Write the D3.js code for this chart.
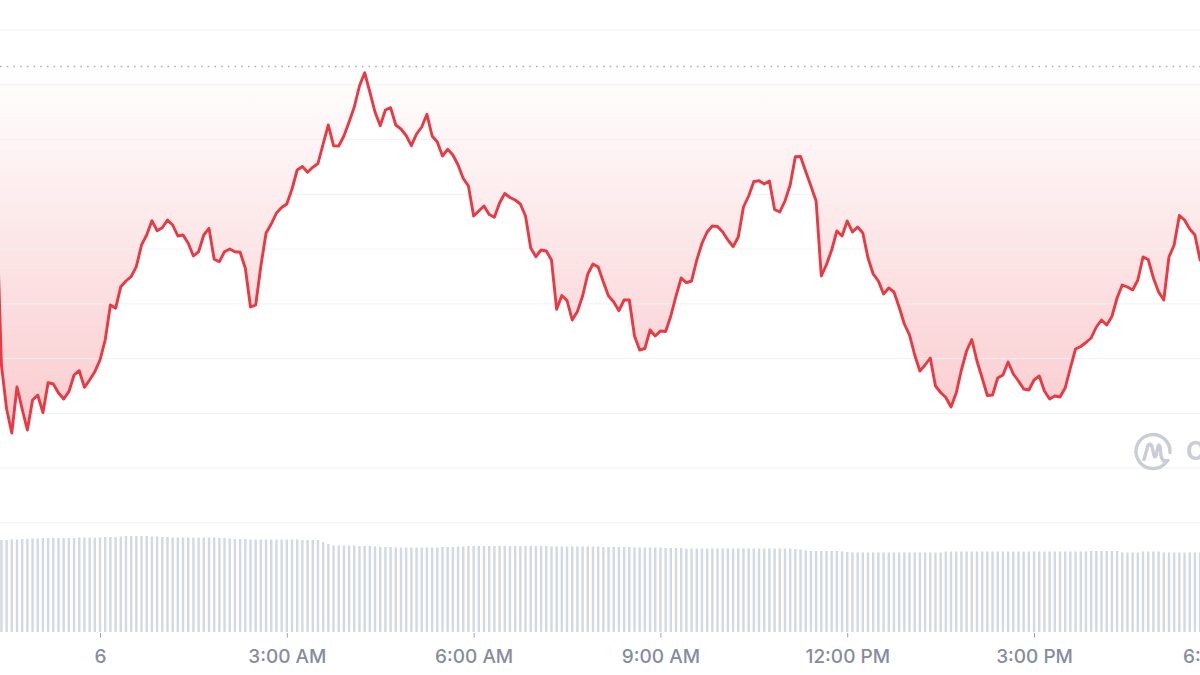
<!DOCTYPE html>
<html><head><meta charset="utf-8">
<script src="https://cdn.jsdelivr.net/npm/d3@7"></script>
<style>html,body{margin:0;padding:0;background:#fff;overflow:hidden;} svg{display:block;}</style>
</head><body>
<svg id="chart" width="1200" height="675"></svg>
<script>
// ---- data (5-minute samples) ----
const startTime = "2024-01-05T22:20:00";
const stepMinutes = 5;
const viewStart = "2024-01-05T22:23:38";
const viewEnd = "2024-01-06T17:39:54";
const openPrice = 1.4335;
const prices = [
1.3000,1.1350,1.0910,1.0670,1.1130,1.0910,1.0700,1.1000,1.1050,1.0873,
1.1173,1.1160,1.1070,1.1010,1.1083,1.1250,1.1293,1.1127,1.1200,1.1283,
1.1400,1.1600,1.1950,1.1917,1.2133,1.2190,1.2233,1.2333,1.2550,1.2650,
1.2793,1.2693,1.2723,1.2800,1.2750,1.2640,1.2650,1.2567,1.2440,1.2483,
1.2650,1.2717,1.2407,1.2383,1.2483,1.2510,1.2483,1.2477,1.2320,1.1930,
1.1950,1.2340,1.2670,1.2760,1.2870,1.2925,1.2960,1.3110,1.3300,1.3335,
1.3277,1.3327,1.3365,1.3560,1.3750,1.3543,1.3540,1.3640,1.3780,1.3930,
1.4140,1.4273,1.4080,1.3880,1.3743,1.3900,1.3923,1.3750,1.3710,1.3645,
1.3543,1.3660,1.3730,1.3857,1.3640,1.3580,1.3440,1.3507,1.3450,1.3350,
1.3215,1.3140,1.2840,1.2890,1.2940,1.2855,1.2827,1.2970,1.3065,1.3025,
1.3000,1.2960,1.2840,1.2520,1.2433,1.2500,1.2490,1.2400,1.1907,1.2045,
1.1995,1.1800,1.1885,1.2040,1.2260,1.2360,1.2330,1.2180,1.2040,1.1980,
1.1893,1.2000,1.2000,1.1640,1.1500,1.1515,1.1700,1.1640,1.1690,1.1685,
1.1840,1.2040,1.2220,1.2173,1.2190,1.2400,1.2565,1.2680,1.2740,1.2735,
1.2680,1.2600,1.2533,1.2630,1.2930,1.3040,1.3185,1.3193,1.3160,1.3190,
1.2905,1.2880,1.2990,1.3150,1.3433,1.3435,1.3285,1.3140,1.2990,1.2240,
1.2355,1.2500,1.2690,1.2640,1.2790,1.2680,1.2730,1.2670,1.2420,1.2260,
1.2190,1.2060,1.2120,1.2080,1.1930,1.1760,1.1650,1.1450,1.1290,1.1350,
1.1420,1.1140,1.1075,1.1025,1.0930,1.1070,1.1300,1.1490,1.1605,1.1390,
1.1220,1.1045,1.1050,1.1220,1.1250,1.1380,1.1260,1.1190,1.1110,1.1100,
1.1200,1.1240,1.1090,1.1010,1.1040,1.1030,1.1120,1.1320,1.1510,1.1535,
1.1575,1.1620,1.1730,1.1800,1.1750,1.1835,1.2020,1.2150,1.2130,1.2100,
1.2200,1.2430,1.2405,1.2220,1.2080,1.2000,1.2430,1.2550,1.2845,1.2800,
1.2710,1.2650,1.2400
];
const volumes = [
184,184,184,185,185,186,186,
187,187,188,188,188,188,188,188,188,189,189,189,189,189,190,190,190,
191,192,192,192,192,192,191,191,
190,190,189,189,189,189,189,189,189,189,189,188,188,187,
186,186,186,185,185,185,185,185,185,185,185,185,185,184,184,184,184,
180,176,
173,173,173,173,173,172,172,172,171,170,170,170,169,
169,169,169,169,169,169,169,169,170,170,170,171,171,
172,172,172,172,172,172,172,172,172,172,172,172,172,172,172,172,
171,171,171,171,171,171,171,171,171,171,
170,170,170,170,170,170,169,169,169,169,169,169,
168,168,168,168,167,167,167,167,167,167,167,167,167,167,167,167,167,167,167,167,167,167,167,167,167,166,165,
163,162,162,162,162,162,162,161,160,
159,159,159,159,159,159,159,159,159,159,159,159,159,159,159,159,159,159,
161,161,161,161,161,161,161,161,161,161,161,161,161,161,161,161,161,161,161,161,161,161,161,161,161,161,161,161,
162,162,162,162,162,162,
159,159,159,159,
161,161,161,161,
159,159,159,159,159,159,159,159
];
const gridPrices = [1.4700,1.4152,1.3604,1.3057,1.2509,1.1961,1.1414,1.0866,1.0319,0.9771];
const tickTimes = ["2024-01-06T00:00:00","2024-01-06T03:00:00","2024-01-06T06:00:00","2024-01-06T09:00:00","2024-01-06T12:00:00","2024-01-06T15:00:00","2024-01-06T18:00:00"];
const tickLabels = ["6","3:00 AM","6:00 AM","9:00 AM","12:00 PM","3:00 PM","6:00 PM"];

// ---- build ----
const parse = d3.timeParse("%Y-%m-%dT%H:%M:%S");
const t0 = parse(startTime);
const data = prices.map((p, i) => ({
  t: d3.timeMinute.offset(t0, i * stepMinutes),
  p: p,
  v: volumes[i]
}));

const W = 1200, H = 675;
const svg = d3.select("#chart");
const x = d3.scaleTime().domain([parse(viewStart), parse(viewEnd)]).range([0, W]);
const y = d3.scaleLinear().domain([0.9771, 1.4700]).range([522.9, 30]);
const yv = d3.scaleLinear().domain([0, 200]).range([632, 532]);

const defs = svg.append("defs");
const grad = defs.append("linearGradient").attr("id", "fillGrad")
  .attr("gradientUnits", "userSpaceOnUse")
  .attr("x1", 0).attr("x2", 0)
  .attr("y1", y(openPrice)).attr("y2", y(d3.min(prices)));
grad.append("stop").attr("offset", 0).attr("stop-color", "#ea3943").attr("stop-opacity", 0.0);
grad.append("stop").attr("offset", 1).attr("stop-color", "#ea3943").attr("stop-opacity", 0.26);

// volume bars
svg.append("g").selectAll("rect").data(data).join("rect")
  .attr("x", d => x(d.t) - 1.2)
  .attr("width", 2.4)
  .attr("y", d => yv(d.v))
  .attr("height", d => yv(0) - yv(d.v))
  .attr("fill", "#d3d8e5");

// area fill between open price and line
const area = d3.area().x(d => x(d.t)).y0(y(openPrice)).y1(d => y(d.p));
svg.append("path").datum(data).attr("d", area).attr("fill", "url(#fillGrad)");

// grid lines (on top of fill)
svg.append("g").selectAll("line").data(gridPrices).join("line")
  .attr("x1", 0).attr("x2", W)
  .attr("y1", d => y(d)).attr("y2", d => y(d))
  .attr("stroke", "#eff1f4").attr("stroke-width", 1);

// open price dotted line
svg.append("line")
  .attr("x1", 0).attr("x2", W)
  .attr("y1", y(openPrice)).attr("y2", y(openPrice))
  .attr("stroke", "#aab0bc").attr("stroke-width", 1.4)
  .attr("stroke-dasharray", "1.6,5.1");

// watermark
const wm = svg.append("g").attr("fill", "none").attr("stroke", "#c9cdd8")
  .attr("stroke-width", 3.4).attr("stroke-linecap", "round").attr("stroke-linejoin", "round");
const cx = 1153, cy = 451.5, r = 17;
const arc = d3.arc().innerRadius(r).outerRadius(r).startAngle(Math.PI * 0.72).endAngle(Math.PI * 2.52);
wm.append("path").attr("transform", `translate(${cx},${cy})`).attr("d", arc());
wm.append("path").attr("transform", `translate(${cx},${cy})`)
  .attr("d", "M-9,8 L-5,-6 Q-3,-9 -1,-5 L1,4 Q2,7 3,4 L5,-5 Q6,-8 7,-5 L8,4 Q9,11 15,9");
svg.append("text").attr("x", 1186).attr("y", 460)
  .attr("font-family", "Inter, sans-serif").attr("font-weight", 700).attr("font-size", 25)
  .attr("fill", "#c9cdd8").text("CoinMarketCap");

// price line
const line = d3.line().x(d => x(d.t)).y(d => y(d.p));
svg.append("path").datum(data).attr("d", line)
  .attr("fill", "none").attr("stroke", "#ea3943").attr("stroke-width", 2.9)
  .attr("stroke-linejoin", "round").attr("stroke-linecap", "round");

// x axis
const tickDates = tickTimes.map(parse);
const axis = d3.axisBottom(x).tickValues(tickDates).tickFormat((d, i) => tickLabels[i]).tickSize(4.5).tickSizeOuter(0);
const gx = svg.append("g").attr("transform", "translate(0,633)").call(axis);
gx.select(".domain").remove();
gx.selectAll(".tick line").attr("stroke", "#9aa0ad").attr("stroke-width", 1);
gx.selectAll(".tick text")
  .attr("y", 30.3).attr("dy", 0)
  .attr("font-family", "Inter, sans-serif").attr("font-size", 19).attr("font-weight", 500)
  .attr("fill", "#858ca0");
</script>
</body></html>
